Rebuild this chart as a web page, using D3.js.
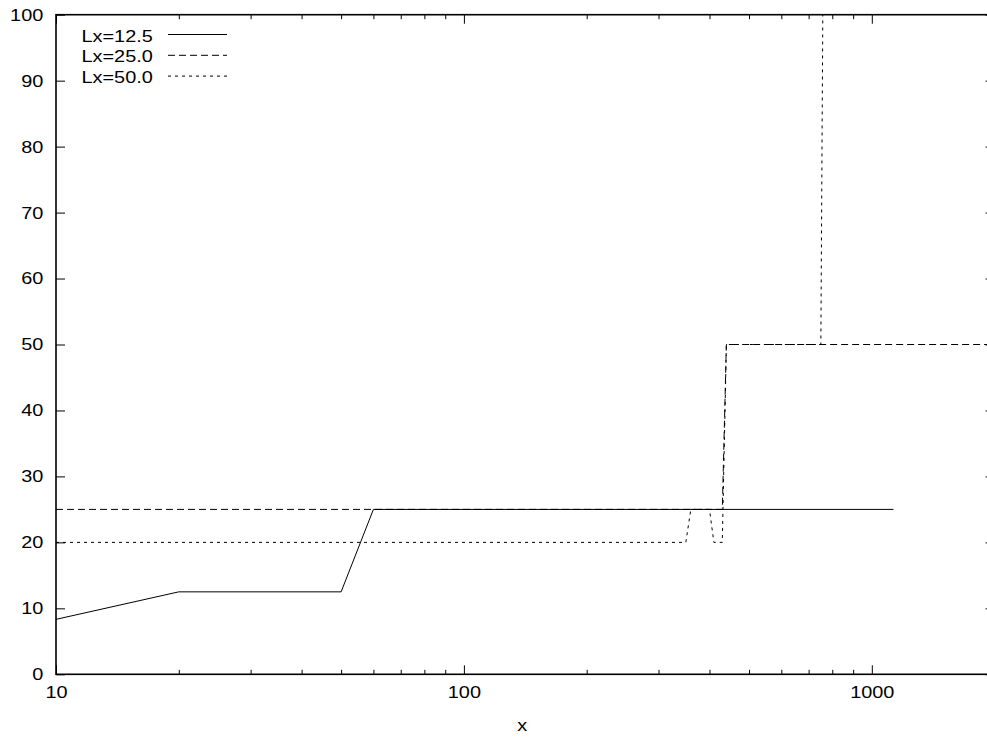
<!DOCTYPE html>
<html>
<head>
<meta charset="utf-8">
<script src="https://cdn.jsdelivr.net/npm/d3@7"></script>
<style>
  body { margin: 0; background: #fff; }
  svg { display: block; }
  text { font-family: "Liberation Sans", Arial, sans-serif; font-size: 17px; fill: #000; }
</style>
</head>
<body>
<div id="chart"></div>
<script>
// data
let seriesNames = ["Lx=12.5", "Lx=25.0", "Lx=50.0"];
let x12 = [10, 20, 50, 60, 1130];
let y12 = [8.33, 12.5, 12.5, 25, 25];
let x25 = [10, 430, 440, 2000];
let y25 = [25, 25, 50, 50];
let x50 = [10, 350, 360, 400, 410, 430, 440, 750, 760];
let y50 = [20, 20, 25, 25, 20, 20, 50, 50, 110];
let xMajor = [10, 100, 1000];
let yTicks = [0, 10, 20, 30, 40, 50, 60, 70, 80, 90, 100];

// Set size
let w = 987;
let h = 737;
let padLeft = 56, padTop = 14.7, padBottom = 674.3, padRight = 994.6;
let stretch = 1.17;

let xScale = d3.scaleLog().domain([10, 2000]).range([padLeft, padRight]);
let yScale = d3.scaleLinear().domain([0, 100]).range([padBottom, padTop]);

// minor log ticks 20..90, 200..900, 2000
let xMinor = [];
[10, 100, 1000].forEach((d) => {
  for (let k = 2; k <= 9; k++) if (d * k <= 2000) xMinor.push(d * k);
});

let svg = d3.select("#chart").append("svg").attr("width", w).attr("height", h);

svg.append("clipPath").attr("id", "clip")
  .append("rect")
  .attr("x", padLeft).attr("y", padTop)
  .attr("width", padRight - padLeft).attr("height", padBottom - padTop);

// axes
function style(g) {
  g.select(".domain").remove();
  g.selectAll(".tick line").attr("stroke", "#000").attr("stroke-width", 1);
}

svg.append("g")
  .attr("transform", "translate(0," + padBottom + ")")
  .call(d3.axisBottom(xScale).tickValues(xMajor).tickFormat(d3.format("d")).tickSize(-9).tickPadding(12))
  .call(style);
svg.append("g")
  .attr("transform", "translate(0," + padBottom + ")")
  .call(d3.axisBottom(xScale).tickValues(xMinor).tickFormat("").tickSize(-4.5))
  .call(style);
svg.append("g")
  .attr("transform", "translate(0," + padTop + ")")
  .call(d3.axisTop(xScale).tickValues(xMajor).tickFormat("").tickSize(-9))
  .call(style);
svg.append("g")
  .attr("transform", "translate(0," + padTop + ")")
  .call(d3.axisTop(xScale).tickValues(xMinor).tickFormat("").tickSize(-4.5))
  .call(style);
svg.append("g")
  .attr("transform", "translate(" + padLeft + ",0)")
  .call(d3.axisLeft(yScale).tickValues(yTicks).tickSize(-9).tickPadding(12.7))
  .call(style);
svg.append("g")
  .attr("transform", "translate(" + padRight + ",0)")
  .call(d3.axisRight(yScale).tickValues(yTicks).tickFormat("").tickSize(-9))
  .call(style);

svg.selectAll(".tick text").attr("font-family", null).attr("font-size", null).attr("fill", "#000");

// border
svg.append("rect")
  .attr("x", padLeft).attr("y", padTop)
  .attr("width", padRight - padLeft).attr("height", padBottom - padTop)
  .attr("fill", "none").attr("stroke", "#000").attr("stroke-width", 1.6);

// lines
let line = d3.line().x((d) => xScale(d[0])).y((d) => yScale(d[1]));
let series = [
  { xs: x12, ys: y12, dash: null },
  { xs: x25, ys: y25, dash: "7,4" },
  { xs: x50, ys: y50, dash: "3,4" },
];

let plot = svg.append("g").attr("clip-path", "url(#clip)");
series.forEach((s) => {
  plot.append("path")
    .datum(s.xs.map((x, i) => [x, s.ys[i]]))
    .attr("d", line)
    .attr("fill", "none")
    .attr("stroke", "#000")
    .attr("stroke-width", 1)
    .attr("stroke-dasharray", s.dash);
});

// legend
let legend = svg.append("g");
series.forEach((s, i) => {
  legend.append("text")
    .attr("x", 81.5)
    .attr("y", 41.5 + i * 20.5)
    .text(seriesNames[i]);
  legend.append("line")
    .attr("x1", 168).attr("x2", 227)
    .attr("y1", 34.5 + i * 20.8).attr("y2", 34.5 + i * 20.8)
    .attr("stroke", "#000")
    .attr("stroke-width", 1)
    .attr("stroke-dasharray", s.dash);
});

// axis title
svg.append("text")
  .attr("x", (padLeft + padRight) / 2 - 3)
  .attr("y", 731)
  .attr("text-anchor", "middle")
  .text("x");

// widen glyphs like the original bitmap font
svg.selectAll("text").each(function () {
  let len = this.getComputedTextLength();
  d3.select(this).attr("textLength", len * stretch).attr("lengthAdjust", "spacingAndGlyphs");
});
</script>
</body>
</html>
